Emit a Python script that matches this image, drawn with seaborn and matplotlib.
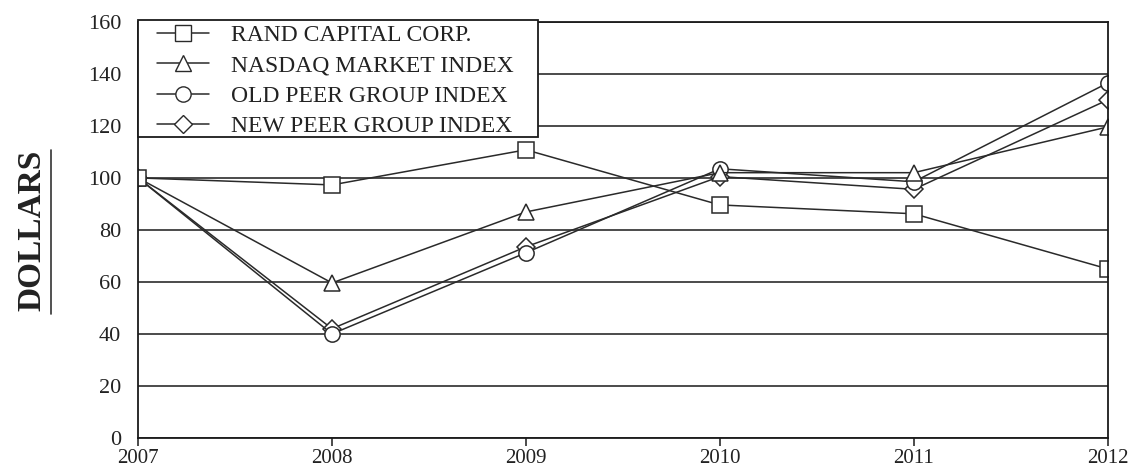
import pandas as pd
import matplotlib.pyplot as plt
import seaborn as sns
from matplotlib.lines import Line2D
from matplotlib.patches import Rectangle

years = [2007, 2008, 2009, 2010, 2011, 2012]
series_names = ['RAND CAPITAL CORP.', 'NASDAQ MARKET INDEX',
                'OLD PEER GROUP INDEX', 'NEW PEER GROUP INDEX']
rand = [100, 97.3, 110.8, 89.6, 86.2, 65]
nasdaq = [100, 59.6, 86.9, 102, 102, 119.6]
old_peer = [100, 40, 71.2, 103.5, 98.5, 136.5]
new_peer = [100, 42, 73.5, 100.5, 95.6, 130]

df = pd.DataFrame({
    'year': years * 4,
    'value': rand + nasdaq + old_peer + new_peer,
    'series': [s for s in series_names for _ in years],
})

sns.set_theme(style='white')
plt.rcParams['font.family'] = ['Liberation Serif', 'DejaVu Serif']

markers = ['s', '^', 'o', 'D']
msizes = {'s': 11, '^': 11, 'o': 11, 'D': 9.5}
fig = plt.figure(figsize=(11.35, 4.75), dpi=100)
ax = fig.add_axes([0.1216, 0.078, 0.8544, 0.876])

# draw in reverse so the Rand squares end on top
for name, m in list(zip(series_names, markers))[::-1]:
    sns.lineplot(data=df[df['series'] == name], x='year', y='value',
                 marker=m, color='#2a2a2a', linewidth=1.1, markersize=msizes[m],
                 markerfacecolor='white', markeredgecolor='#2a2a2a',
                 markeredgewidth=1.1, ax=ax, legend=False)

ax.set_xlim(2007, 2012)
ax.set_ylim(0, 160)
ax.set_yticks(range(0, 161, 20))
ax.set_xticks(years)
ax.set_xlabel('')
ax.set_ylabel('')
ax.yaxis.grid(True, color='#1a1a1a', linewidth=1.1)
ax.set_axisbelow(True)
for sp in ax.spines.values():
    sp.set_color('#1a1a1a')
    sp.set_linewidth(1.3)
ax.tick_params(axis='x', direction='out', length=6, width=1.1, color='#1a1a1a',
               labelsize=15, labelcolor='#222', pad=2, bottom=True)
ax.tick_params(axis='y', length=0, labelsize=16, labelcolor='#222', pad=12)

# legend: frame drawn by hand so the box matches the original
frame = Rectangle((0, 0.7236), 0.4124, 0.282, transform=ax.transAxes,
                  facecolor='white', edgecolor='#1a1a1a', linewidth=1.3,
                  zorder=5, clip_on=False)
ax.add_patch(frame)
handles = [Line2D([], [], color='#2a2a2a', marker=m, markersize=msizes[m], linewidth=1.1,
                  markerfacecolor='white', markeredgecolor='#2a2a2a')
           for m in markers]
leg = ax.legend(handles, series_names, loc='upper left', bbox_to_anchor=(0.0196, 0.994),
                fontsize=17, frameon=False, handlelength=2.2, borderpad=0,
                labelspacing=0.38, handletextpad=0.95, borderaxespad=0)
leg.set_zorder(6)
for t in leg.get_texts():
    t.set_color('#222')

fig.text(0.028, 0.516, 'DOLLARS', rotation=90, ha='center', va='center',
         fontsize=24, fontweight='bold', color='#222')
fig.add_artist(Line2D([0.045, 0.045], [0.34, 0.685], color='#333', linewidth=1.2))

fig.savefig('out.png', dpi=100)
